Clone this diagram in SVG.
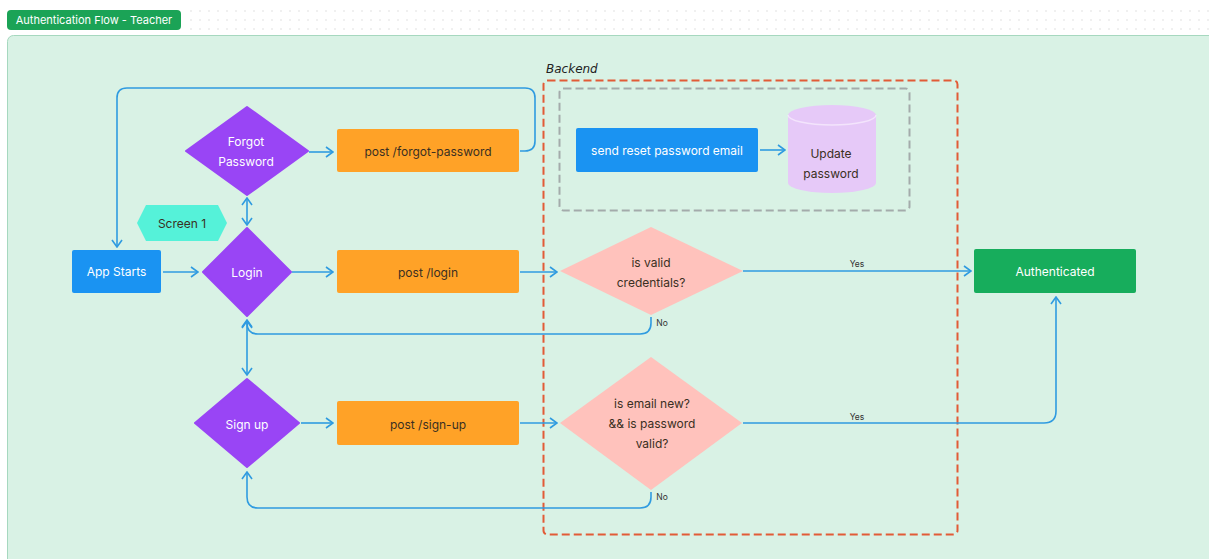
<svg xmlns="http://www.w3.org/2000/svg" width="1209" height="559" viewBox="0 0 1209 559">
<defs>
<pattern id="dots" width="9" height="9" patternUnits="userSpaceOnUse"><circle cx="2" cy="2" r="0.8" fill="#dcdcdc"/></pattern>
<marker id="arr" viewBox="0 0 10 12" refX="9" refY="6" markerWidth="10" markerHeight="12" markerUnits="userSpaceOnUse" orient="auto-start-reverse"><path d="M2,1 L9,6 L2,11" fill="none" stroke="#2f9be0" stroke-width="1.6"/></marker>
</defs>
<style>
.t{font-family:Inter,"Liberation Sans",sans-serif;font-size:12px;text-anchor:middle;dominant-baseline:central}
.w{fill:#ffffff}
.d{fill:#3a2f22}
.e{fill:none;stroke:#2f9be0;stroke-width:1.6}
.lbl{font-family:Inter,"Liberation Sans",sans-serif;font-size:8.5px;fill:#333;text-anchor:middle}
.purple{fill:#9945f5}
.orange{fill:#ffa227}
.pink{fill:#ffc2bc}
</style>
<rect width="1209" height="559" fill="#ffffff"/>
<rect x="185" y="4" width="1024" height="28" fill="url(#dots)"/>
<rect x="7.5" y="35.5" width="1210" height="530" rx="6" fill="#d9f2e5" stroke="#a6d8bf"/>
<g id="title"><rect x="7" y="10" width="174" height="20" rx="4" fill="#1ba356"/><text x="94" y="20" class="t w" style="font-size:11px">Authentication Flow - Teacher</text></g>

<g id="backend"><rect x="543.5" y="80.5" width="414" height="454" rx="4" fill="none" stroke="#e25b37" stroke-width="2" stroke-dasharray="8,4"/><text x="546" y="73" style="font-family:'DejaVu Sans',sans-serif;font-style:italic;font-size:12px;fill:#222">Backend</text></g>
<g id="reset-group"><rect x="559.5" y="88.5" width="350" height="122" rx="4" fill="none" stroke="#a4abab" stroke-width="2" stroke-dasharray="8,4"/></g>

<g id="connectors">
<path class="e" d="M163,272 L198,272" marker-end="url(#arr)"/>
<path class="e" d="M292,272 L333,272" marker-end="url(#arr)"/>
<path class="e" d="M520,272 L557,272" marker-end="url(#arr)"/>
<path class="e" d="M743,271 L971,271" marker-end="url(#arr)"/>
<text class="lbl" x="857" y="267">Yes</text>
<path class="e" d="M651,317 L651,323 Q651,334 640,334 L258,334 Q247,334 247,323 L247,320" marker-end="url(#arr)"/>
<text class="lbl" x="662" y="326">No</text>
<path class="e" d="M247,321 L247,375" marker-start="url(#arr)" marker-end="url(#arr)"/>
<path class="e" d="M247,198 L247,225" marker-start="url(#arr)" marker-end="url(#arr)"/>
<path class="e" d="M309,152 L333,152" marker-end="url(#arr)"/>
<path class="e" d="M520,151 L525,151 Q535,151 535,141 L535,98 Q535,88 525,88 L127,88 Q117,88 117,98 L117,247" marker-end="url(#arr)"/>
<path class="e" d="M760,150 L785,150" marker-end="url(#arr)"/>
<path class="e" d="M301,423 L333,423" marker-end="url(#arr)"/>
<path class="e" d="M520,423 L557,423" marker-end="url(#arr)"/>
<path class="e" d="M743,423 L1044,423 Q1056,423 1056,411 L1056,297" marker-end="url(#arr)"/>
<text class="lbl" x="857" y="420">Yes</text>
<path class="e" d="M651,492 L651,497 Q651,508 640,508 L258,508 Q247,508 247,497 L247,472" marker-end="url(#arr)"/>
<text class="lbl" x="662" y="500">No</text>
</g>

<g id="app-starts"><rect x="72" y="250" width="89" height="43" rx="2" fill="#1a93f2"/><text x="116.5" y="271.5" class="t w">App Starts</text></g>
<g id="screen1"><polygon points="146,205 218,205 227,223 218,241 146,241 137,223" fill="#55f2d9"/><text x="182" y="223" class="t d">Screen 1</text></g>
<g id="forgot"><polygon points="247,107 308,151 247,195 186,151" class="purple" stroke="#9945f5" stroke-width="2" stroke-linejoin="round"/><text x="246" y="141" class="t w">Forgot</text><text x="246" y="161" class="t w">Password</text></g>
<g id="login"><polygon points="247,228 291,272 247,316 203,272" class="purple" stroke="#9945f5" stroke-width="2" stroke-linejoin="round"/><text x="247" y="272" class="t w">Login</text></g>
<g id="signup"><polygon points="247,379 299,423 247,467 195,423" class="purple" stroke="#9945f5" stroke-width="2" stroke-linejoin="round"/><text x="247" y="424" class="t w">Sign up</text></g>
<g id="post-forgot"><rect x="337" y="129" width="182" height="43" rx="2" class="orange"/><text x="428" y="151" class="t d">post /forgot-password</text></g>
<g id="post-login"><rect x="337" y="250" width="182" height="43" rx="2" class="orange"/><text x="428" y="272" class="t d">post /login</text></g>
<g id="post-signup"><rect x="337" y="401" width="182" height="44" rx="2" class="orange"/><text x="428" y="424" class="t d">post /sign-up</text></g>
<g id="send-reset"><rect x="576" y="128" width="182" height="44" rx="2" fill="#1a93f2"/><text x="667" y="150" class="t w">send reset password email</text></g>
<g id="update-password"><path d="M788,115 A44,10 0 0 1 876,115 L876,183 A44,10 0 0 1 788,183 Z" fill="#e6c9f8"/><path d="M788,115 A44,10 0 0 0 876,115" fill="none" stroke="#f3e4fc" stroke-width="1.5"/><text x="831" y="153" class="t d">Update</text><text x="831" y="173" class="t d">password</text></g>
<g id="valid-credentials"><polygon points="651,227 743,271 651,315 560,271" class="pink"/><text x="651" y="262" class="t d">is valid</text><text x="651" y="282" class="t d">credentials?</text></g>
<g id="email-new"><polygon points="651,357 742,423 651,490 560,423" class="pink"/><text x="652" y="403" class="t d">is email new?</text><text x="652" y="423" class="t d">&amp;&amp; is password</text><text x="652" y="443" class="t d">valid?</text></g>
<g id="authenticated"><rect x="974" y="249" width="162" height="44" rx="2" fill="#17ad5c"/><text x="1055" y="271" class="t w">Authenticated</text></g>
</svg>
